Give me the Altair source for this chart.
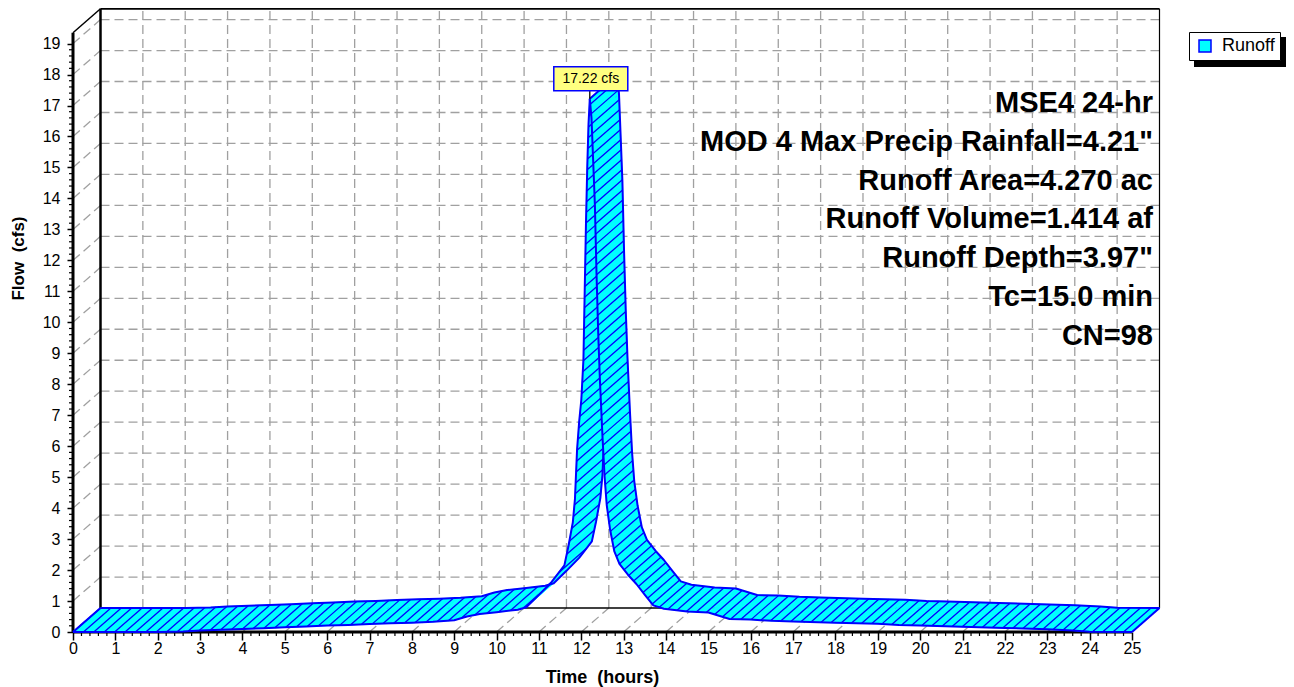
import altair as alt
import numpy as np
import pandas as pd

# ---------------- data ----------------
SERIES = "Runoff"
TIME_HR = [0.0, 1.0, 2.0, 2.6, 3.0, 3.5, 4.0, 4.5, 5.0, 5.5, 6.0, 6.5, 7.0, 7.5,
           8.0, 8.5, 9.0, 9.3, 9.6, 10.0, 10.5, 10.7, 11.0, 11.3, 11.6, 11.7,
           11.8, 11.85, 11.9, 11.95, 12.0, 12.05, 12.08, 12.11, 12.14, 12.17,
           12.2, 12.24, 12.28, 12.32, 12.36, 12.4, 12.44, 12.5, 12.55, 12.6,
           12.68, 12.78, 12.9, 13.1, 13.3, 13.5, 13.7, 13.95, 14.5, 15.0, 15.5,
           16.0, 16.5, 17.0, 18.0, 19.0, 19.5, 20.0, 21.0, 22.0, 23.0, 23.6,
           24.0, 25.0]
FLOW_CFS = [0.00, 0.00, 0.00, 0.02, 0.05, 0.07, 0.10, 0.12, 0.15, 0.18, 0.21,
            0.23, 0.26, 0.28, 0.30, 0.33, 0.38, 0.50, 0.58, 0.64, 0.72, 0.80,
            1.20, 1.62, 2.15, 2.80, 3.55, 4.30, 5.90, 6.80, 7.50, 8.80, 11.0,
            13.2, 15.0, 16.4, 17.22, 16.6, 15.2, 13.8, 11.5, 9.6, 8.1, 6.3, 5.0,
            4.1, 3.3, 2.6, 2.2, 1.85, 1.55, 1.2, 0.86, 0.75, 0.66, 0.63, 0.42,
            0.40, 0.36, 0.34, 0.30, 0.27, 0.23, 0.21, 0.17, 0.13, 0.09, 0.05,
            0.01, 0.00]
X_TICKS = list(range(26))
Y_TICKS = list(range(20))
X_MINOR = [k / 5 for k in range(126) if k % 5]
Y_MINOR = [k / 5 for k in range(96) if k % 5]
ANNOT_LINES = ["MSE4 24-hr",
               'MOD 4 Max Precip Rainfall=4.21"',
               "Runoff Area=4.270 ac",
               "Runoff Volume=1.414 af",
               'Runoff Depth=3.97"',
               "Tc=15.0 min",
               "CN=98"]

# ---------------- geometry / style ----------------
FONT = "Liberation Sans"
CYAN, BLUE, GRID = "#00FFFF", "#0000FF", "#A0A0A0"
PX_X, PX_Y = 42.36, 30.97          # pixels per hour / per cfs
W, H = 1086, 624
DX, DY = 27.5 / PX_X, 24.0 / PX_Y  # 3-D depth offset in data units
XEND, YTOP = 25.0, 19.35
XMAX, YMAX = W / PX_X, H / PX_Y
HATCH = 10.4

xs = alt.Scale(domain=[0, XMAX], nice=False, zero=False)
ys = alt.Scale(domain=[0, YMAX], nice=False, zero=False)

ax_x = alt.Axis(values=X_TICKS, domain=False, grid=False, tickSize=8, tickWidth=1.5,
                tickColor="black", labelFont=FONT, labelFontSize=16, labelColor="black",
                labelPadding=0, labelFlush=False, labelOverlap=False, format="d",
                title="Time\u00a0 (hours)", titleFont=FONT, titleFontSize=18,
                titleFontWeight="bold", titleColor="black", titleX=529, titleY=45,
                titleAlign="center", titleBaseline="middle")
ax_y = alt.Axis(values=Y_TICKS, domain=False, grid=False, tickSize=6, tickWidth=1.5,
                tickColor="black", labelFont=FONT, labelFontSize=16, labelColor="black",
                labelPadding=7, labelFlush=False, labelOverlap=False, format="d",
                title="Flow\u00a0 (cfs)", titleFont=FONT, titleFontSize=17,
                titleFontWeight="bold", titleColor="black", titleX=-55, titleY=250,
                titleAngle=270, titleAlign="center", titleBaseline="middle")


def X(f):
    return alt.X(f, scale=xs, axis=ax_x)


def Y(f):
    return alt.Y(f, scale=ys, axis=ax_y)


T, Q = TIME_HR, FLOW_CFS
n = len(T)
ip = int(np.argmax(Q))

# ribbon quads
quad_rows = []
for i in range(n - 1):
    part = "rise" if i < ip else "fall"
    verts = [(T[i], Q[i]), (T[i + 1], Q[i + 1]),
             (T[i + 1] + DX, Q[i + 1] + DY), (T[i] + DX, Q[i] + DY)]
    for vi, (a, b) in enumerate(verts):
        quad_rows.append(dict(seg=i, vi=vi, t=a, q=b, part=part, series=SERIES))
quads = pd.DataFrame(quad_rows)

# hatch lines (parallel to depth direction)
hatch_rows = []
for i in range(n - 1):
    u0 = T[i] * PX_X - Q[i] * PX_Y
    u1 = T[i + 1] * PX_X - Q[i + 1] * PX_Y
    if u0 == u1:
        continue
    lo, hi = min(u0, u1), max(u0, u1)
    for k in range(int(np.ceil(lo / HATCH)), int(np.floor(hi / HATCH)) + 1):
        s = (k * HATCH - u0) / (u1 - u0)
        if s < 0 or s >= 1:
            continue
        a = T[i] + s * (T[i + 1] - T[i])
        b = Q[i] + s * (Q[i + 1] - Q[i])
        hatch_rows.append(dict(t=a, q=b, t2=a + DX, q2=b + DY,
                               part="rise" if i < ip else "fall"))
hatch = pd.DataFrame(hatch_rows)

# ribbon outlines
out_rows = []


def add_edge(name, pts, part):
    for o, (a, b) in enumerate(pts):
        out_rows.append(dict(edge=name, o=o, t=a, q=b, part=part))


add_edge("rf", [(T[i], Q[i]) for i in range(ip + 1)], "rise")
add_edge("rb", [(T[i] + DX, Q[i] + DY) for i in range(ip + 1)], "rise")
add_edge("le", [(T[0], Q[0]), (T[0] + DX, Q[0] + DY)], "rise")
add_edge("ff", [(T[i], Q[i]) for i in range(ip, n)], "fall")
add_edge("fb", [(T[i] + DX, Q[i] + DY) for i in range(ip, n)], "fall")
add_edge("re", [(T[-1], Q[-1]), (T[-1] + DX, Q[-1] + DY)], "fall")
add_edge("pk", [(T[ip], Q[ip]), (T[ip] + DX, Q[ip] + DY)], "fall")
outl = pd.DataFrame(out_rows)

# 3-D box grid
grid_rows = []
for k in range(1, 20):
    grid_rows.append(dict(x=DX, y=k + DY, x2=XEND + DX, y2=k + DY))
    grid_rows.append(dict(x=0, y=k, x2=DX, y2=k + DY))
for k in range(1, 25):
    grid_rows.append(dict(x=k + DX, y=DY, x2=k + DX, y2=YTOP + DY))
for k in range(1, 25):
    grid_rows.append(dict(x=k, y=0, x2=k + DX, y2=DY))
grid = pd.DataFrame(grid_rows)

frame = pd.DataFrame([
    dict(x=DX, y=YTOP + DY, x2=XEND + DX, y2=YTOP + DY, w=2.2),
    dict(x=DX, y=DY, x2=DX, y2=YTOP + DY, w=2.5),
    dict(x=XEND + DX, y=DY, x2=XEND + DX, y2=YTOP + DY, w=1.2),
    dict(x=DX, y=DY, x2=XEND + DX, y2=DY, w=1.5),
    dict(x=0, y=YTOP, x2=DX, y2=YTOP + DY, w=1.5),
    dict(x=0, y=0, x2=0, y2=YTOP, w=3.0),
    dict(x=0, y=0, x2=XEND, y2=0, w=3.0),
])

# ---------------- layers ----------------
grid_layer = alt.Chart(grid).mark_rule(color=GRID, strokeWidth=1.3, strokeDash=[9, 5]).encode(
    x=X("x:Q"), y=Y("y:Q"), x2="x2:Q", y2="y2:Q")

frame_layer = alt.Chart(frame).mark_rule(color="black").encode(
    x=X("x:Q"), y=Y("y:Q"), x2="x2:Q", y2="y2:Q",
    strokeWidth=alt.StrokeWidth("w:Q", scale=None))

xminor = alt.Chart(pd.DataFrame({"x": X_MINOR})).mark_rule(color="black", strokeWidth=1.2).encode(
    x=X("x:Q"), y=alt.value(H), y2=alt.value(H + 4))
yminor = alt.Chart(pd.DataFrame({"y": Y_MINOR})).mark_rule(color="black", strokeWidth=1.2).encode(
    y=Y("y:Q"), x=alt.value(-4), x2=alt.value(0))

legend = alt.Legend(title=None, orient="none", legendX=1116, legendY=24,
                    symbolType="square", symbolSize=144, symbolStrokeColor=BLUE,
                    symbolStrokeWidth=1.5, symbolOffset=2, labelFont=FONT,
                    labelFontSize=18, labelColor="black", strokeColor="black",
                    fillColor="white", padding=5, labelOffset=8)
fill_enc = alt.Fill("series:N", scale=alt.Scale(domain=[SERIES], range=[CYAN]), legend=legend)


def ribbon(part):
    fills = alt.Chart(quads[quads.part == part]).mark_line(
        stroke=CYAN, strokeWidth=0.8).encode(
        x=X("t:Q"), y=Y("q:Q"), detail="seg:N", order="vi:Q", fill=fill_enc)
    hat = alt.Chart(hatch[hatch.part == part]).mark_rule(color=BLUE, strokeWidth=1.3).encode(
        x=X("t:Q"), y=Y("q:Q"), x2="t2:Q", y2="q2:Q")
    edges = alt.Chart(outl[outl.part == part]).mark_line(
        color=BLUE, strokeWidth=2, strokeJoin="round").encode(
        x=X("t:Q"), y=Y("q:Q"), detail="edge:N", order="o:Q")
    return [fills, hat, edges]


# peak label
TP, QP = T[ip], Q[ip]
peak_df = pd.DataFrame([dict(t=TP, q=QP, q2=QP + 8 / PX_Y,
                             bx=TP - 36 / PX_X, bx2=TP + 38 / PX_X,
                             by=QP + 8 / PX_Y, by2=QP + 32 / PX_Y,
                             tx=TP + 1 / PX_X, ty=QP + 20 / PX_Y,
                             label=f"{QP:.2f} cfs")])
leader = alt.Chart(peak_df).mark_rule(color="black", strokeWidth=1.3).encode(
    x=X("t:Q"), y=Y("q:Q"), y2="q2:Q")
pbox = alt.Chart(peak_df).mark_rect(fill="#FFFF80", stroke=BLUE, strokeWidth=1.5).encode(
    x=X("bx:Q"), x2="bx2:Q", y=Y("by:Q"), y2="by2:Q")
ptext = alt.Chart(peak_df).mark_text(font=FONT, fontSize=14, color="black",
                                     baseline="middle", align="center").encode(
    x=X("tx:Q"), y=Y("ty:Q"), text="label:N")

shadow = alt.Chart(pd.DataFrame({"a": [0]})).mark_rect(color="black").encode(
    x=alt.value(1121), x2=alt.value(1218), y=alt.value(29), y2=alt.value(59))

annots = []
for i, line in enumerate(ANNOT_LINES):
    annots.append(alt.Chart(pd.DataFrame({"a": [0]})).mark_text(
        font=FONT, fontSize=29, fontWeight="bold", color="black",
        align="right", baseline="middle").encode(
        x=alt.value(1080), y=alt.value(95 + i * 38.8), text=alt.value(line)))

layers = ([grid_layer, frame_layer, xminor, yminor, shadow]
          + ribbon("rise") + ribbon("fall")
          + [leader, pbox, ptext] + annots)

chart = alt.layer(*layers).properties(
    width=W, height=H,
    padding={"left": 65, "top": 0, "right": 127, "bottom": 55},
    autosize=alt.AutoSizeParams(type="none"),
    background="white",
).configure_view(stroke=None)

chart.save("out.html", embed_options={"renderer": "svg", "actions": False})
